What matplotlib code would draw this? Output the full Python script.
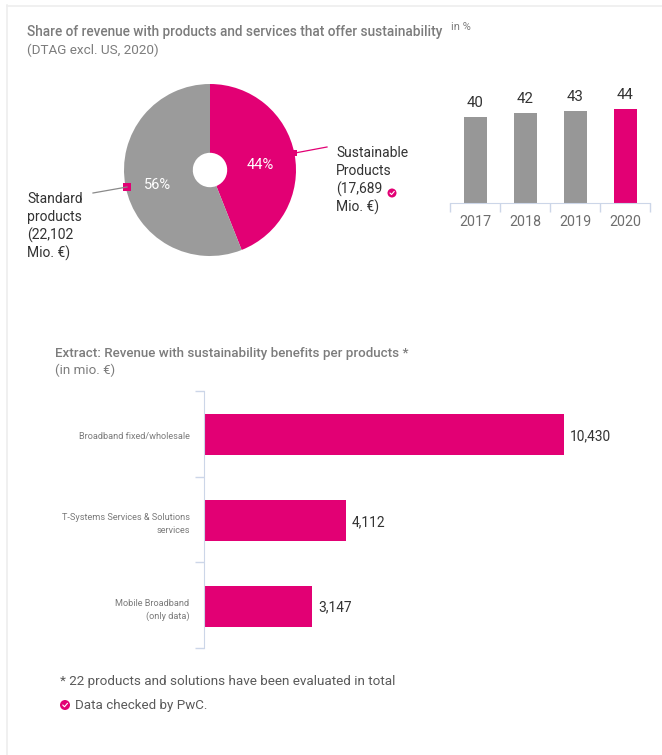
import matplotlib
matplotlib.use("Agg")
import matplotlib.pyplot as plt
from matplotlib.transforms import ScaledTranslation
from matplotlib.patches import Circle, Rectangle

W = 662
H = 755

#data
pie_labels = ["Sustainable", "Standard"]
pie_values = [44, 56]
years = ["2017", "2018", "2019", "2020"]
year_values = [40, 42, 43, 44]
products = ["Broadband fixed/wholesale", "T-Systems Services & Solutions\nservices", "Mobile Broadband\n(only data)"]
product_values = [10430, 4112, 3147]

#colors
magenta = "#e20074"
grey = "#9b9b9b"
bar_grey = "#979797"
axis_col = "#ccd6e8"
dark = "#333333"
title_col = "#7c7c7c"

plt.rcParams['font.family'] = ['Roboto', 'DejaVu Sans']


def px_axes(left, top, right, bottom):
    return fig.add_axes([left / W, 1 - bottom / H, (right - left) / W, (bottom - top) / H])


fig = plt.figure(figsize=(W / 100, H / 100), dpi=100, facecolor="white")

#overlay in pixel coords for texts and frame
ov = fig.add_axes([0, 0, 1, 1], zorder=5)
ov.set_xlim(0, W)
ov.set_ylim(H, 0)
ov.axis("off")
ov.patch.set_alpha(0)
ov.plot([6.5, 6.5], [5, H], color="#eeeeee", lw=1.2)
ov.plot([6.5, W], [5.5, 5.5], color="#eeeeee", lw=1.2)


def txt(x, y, s, size=10, color=dark, **kw):
    kw.setdefault("va", "center")
    ov.text(x, y, s, fontsize=size, color=color, **kw)


def badge(x, y, r):
    ov.add_patch(Circle((x, y), r, color=magenta, lw=0))
    ov.plot([x - r * 0.45, x - r * 0.1, x + r * 0.5], [y, y + r * 0.35, y - r * 0.35],
            color="white", lw=0.8, solid_capstyle="round")


#titles
txt(27, 32, "Share of revenue with products and services that offer sustainability", 9.85, title_col, weight="medium")
txt(27, 50, "(DTAG excl. US, 2020)", 9.7, title_col)
txt(451, 27, "in %", 8, title_col)
txt(55, 353, "Extract: Revenue with sustainability benefits per products *", 9.6, title_col, weight="medium")
txt(55, 370, "(in mio. €)", 9.6, title_col)

#pie
ax1 = px_axes(124, 84, 296, 256)
ax1.pie(pie_values, colors=[magenta, grey], startangle=90, counterclock=False, radius=1,
        wedgeprops={"width": 0.8, "linewidth": 0})
ax1.set_xlim(-1, 1)
ax1.set_ylim(-1, 1)
txt(260, 165, "44%", 10.5, "white", ha="center")
txt(158, 185, "56%", 10.5, "white", ha="center")

#pie leaders
ov.plot([295, 327], [153, 147], color=magenta, lw=0.9)
ov.add_patch(Rectangle((292, 150), 5, 6, color=magenta, lw=0))
ov.plot([93, 127], [193, 187], color="#8a8a8a", lw=0.9)
ov.add_patch(Rectangle((123, 183), 8, 8, color=magenta, lw=0))
for i, s in enumerate(["Sustainable", "Products", "(17,689", "Mio. €)"]):
    txt(336, 153 + i * 18, s, 10)
for i, s in enumerate(["Standard", "products", "(22,102", "Mio. €)"]):
    txt(27, 199 + i * 18, s, 10)
badge(392, 193, 4.5)

#small bars
ax2 = px_axes(450, 96, 650, 203)
bars = ax2.bar(years, year_values, width=0.46, color=[bar_grey, bar_grey, bar_grey, magenta])
ax2.bar_label(bars, padding=5, fontsize=10.8, color=dark)
ax2.set_xlim(-0.5, 3.5)
ax2.set_ylim(0, 50)
for s in ["top", "left", "right"]:
    ax2.spines[s].set_visible(False)
ax2.spines["bottom"].set_color(axis_col)
ax2.set_yticks([])
ax2.set_xticks([-0.5, 0.5, 1.5, 2.5, 3.5], minor=True)
ax2.tick_params(axis="x", which="minor", length=6.5, color=axis_col, width=1)
ax2.tick_params(axis="x", which="major", length=0, pad=9, labelsize=10.3, labelcolor="#6e6e6e")

#product bars
ax3 = px_axes(203.5, 391, 618.5, 648)
bars3 = ax3.barh(products, product_values, height=0.48, color=magenta)
val_labels = ax3.bar_label(bars3, labels=[f"{v:,}" for v in product_values], padding=4, fontsize=9.9, color=dark)
for lab in val_labels:
    lab.xyann = (lab.xyann[0], -1)
ax3.set_xlim(0, 12000)
ax3.set_ylim(2.488, -0.512)
for s in ["top", "bottom", "right"]:
    ax3.spines[s].set_visible(False)
ax3.spines["left"].set_color(axis_col)
ax3.set_xticks([])
ax3.set_yticks([-0.512, 0.488, 1.488, 2.488], minor=True)
ax3.tick_params(axis="y", which="minor", length=6.5, color=axis_col, width=1)
ax3.tick_params(axis="y", which="major", length=0, pad=10, labelsize=6.6, labelcolor="#7a7a7a")
for lab in ax3.get_yticklabels():
    lab.set_linespacing(1.5)
    lab.set_transform(lab.get_transform() + ScaledTranslation(0, -0.008, fig.dpi_scale_trans))

#footnotes
txt(60, 682, "* 22 products and solutions have been evaluated in total", 9.7, "#5a5a5a")
badge(65, 705, 5)
txt(75, 705, "Data checked by PwC.", 9.6, "#5a5a5a")

fig.savefig("out.png", dpi=100)
